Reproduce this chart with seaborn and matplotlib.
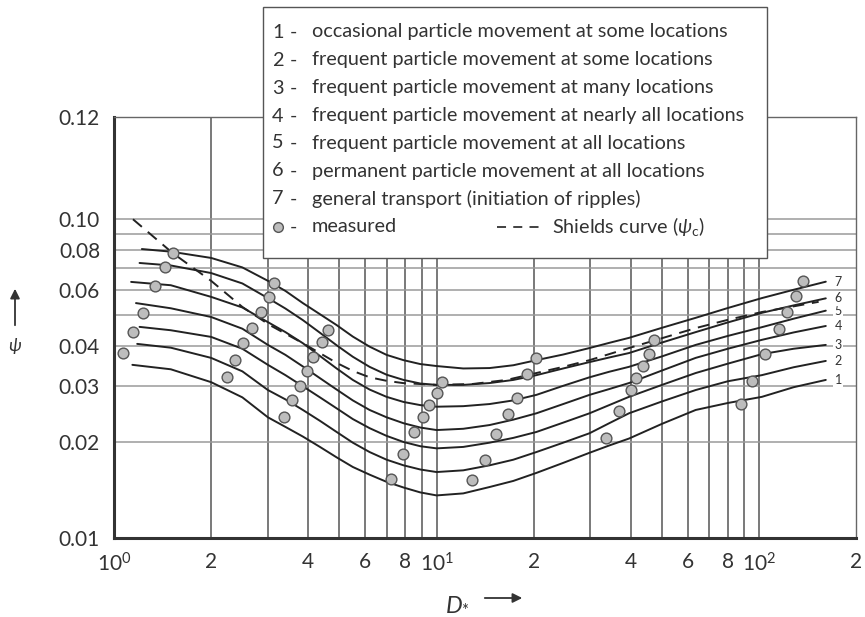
import numpy as np
import pandas as pd
import matplotlib
matplotlib.use("Agg")
import matplotlib.pyplot as plt
import seaborn as sns
from matplotlib.lines import Line2D
from matplotlib.patches import Rectangle, FancyArrowPatch
from matplotlib.ticker import FixedLocator, NullFormatter

# ------------------------
# DATA
# ------------------------

# D* positions where the curves were read (first point differs per curve)
curve_start_x = [1.14, 1.18, 1.2, 1.17, 1.13, 1.2, 1.22]
curve_x = [1.5, 2, 2.5, 3, 3.4, 3.85, 4.35, 4.9, 5.5, 6.2, 7, 7.9, 8.9, 10,
           12.1, 14.6, 17.3, 20.4, 24.7, 29.8, 34.3, 39.5, 50, 63.6, 80, 102, 128, 161]

curve1_y = [0.0349, 0.0338, 0.0308, 0.0276, 0.0239, 0.0223, 0.0208, 0.0193, 0.0179, 0.0167,
            0.0158, 0.015, 0.0144, 0.0139, 0.0136, 0.0138, 0.01445, 0.0151, 0.016, 0.0172,
            0.0185, 0.0195, 0.0205, 0.0228, 0.0252, 0.0265, 0.0277, 0.0297, 0.0313]
curve2_y = [0.0406, 0.0395, 0.0367, 0.0333, 0.0291, 0.0272, 0.0252, 0.0233, 0.0215, 0.0199,
            0.0186, 0.0176, 0.0169, 0.0164, 0.0161, 0.0163, 0.0169, 0.0176, 0.0186, 0.0199,
            0.0213, 0.0229, 0.0246, 0.0268, 0.0291, 0.031, 0.0324, 0.0343, 0.0359]
curve3_y = [0.0459, 0.0448, 0.0427, 0.0392, 0.0349, 0.0324, 0.0299, 0.0276, 0.0255, 0.0236,
            0.0221, 0.0209, 0.0200, 0.0194, 0.0191, 0.0193, 0.0199, 0.0206, 0.0215, 0.023,
            0.0246, 0.0261, 0.0277, 0.0302, 0.0329, 0.0352, 0.0377, 0.0392, 0.0403]
curve4_y = [0.0545, 0.0525, 0.0493, 0.0453, 0.0403, 0.0375, 0.0345, 0.0317, 0.0292, 0.027,
            0.0252, 0.0239, 0.0229, 0.0222, 0.0218, 0.022, 0.0226, 0.0235, 0.0246, 0.0263,
            0.0281, 0.0293, 0.0306, 0.0335, 0.0367, 0.0392, 0.0418, 0.0441, 0.0462]
curve5_y = [0.0635, 0.062, 0.057, 0.0528, 0.0475, 0.0442, 0.0408, 0.0372, 0.034, 0.0313,
            0.0292, 0.0277, 0.0267, 0.0261, 0.0258, 0.0259, 0.0263, 0.027, 0.0281, 0.03,
            0.0319, 0.0332, 0.0344, 0.0371, 0.0403, 0.043, 0.0458, 0.0487, 0.0516]
curve6_y = [0.0728, 0.0715, 0.0677, 0.0628, 0.0565, 0.0524, 0.0482, 0.044, 0.0402, 0.037,
            0.0344, 0.0325, 0.0313, 0.0305, 0.0302, 0.0302, 0.0306, 0.0313, 0.0324, 0.034,
            0.0356, 0.0368, 0.038, 0.041, 0.0442, 0.0474, 0.0508, 0.0536, 0.0564]
curve7_y = [0.0805, 0.079, 0.0755, 0.0705, 0.064, 0.0595, 0.0545, 0.0503, 0.0465, 0.0428,
            0.0398, 0.0375, 0.0361, 0.0351, 0.0346, 0.034, 0.0341, 0.0348, 0.0361, 0.0376,
            0.0394, 0.0409, 0.0424, 0.0456, 0.049, 0.0526, 0.0565, 0.06, 0.0636]

shields_x = [1.145, 1.52, 2.0, 2.5, 3.04, 3.85, 4.9, 5.5, 6.2, 7, 7.86, 10, 12.95, 16.5,
             20.4, 24.7, 29.8, 39.5, 50, 63.6, 80, 102, 125, 153]
shields_y = [0.0998, 0.0782, 0.064, 0.053, 0.0465, 0.0408, 0.0354, 0.0334, 0.0319, 0.0311,
             0.0306, 0.0302, 0.0304, 0.0313, 0.0329, 0.0344, 0.0361, 0.0394, 0.0423, 0.0455,
             0.0483, 0.0511, 0.053, 0.055]

measured_x = [1.52, 1.44, 1.34, 1.23, 1.145, 1.066,
              3.13, 3.02, 2.85, 2.675, 2.51, 2.37, 2.24,
              4.6, 4.4, 4.13, 3.96, 3.77, 3.56, 3.36,
              10.4, 10.0, 9.45, 9.05, 8.49, 7.85, 7.21,
              20.4, 19.1, 17.7, 16.6, 15.3, 14.1, 12.9,
              47.3, 45.6, 43.7, 41.6, 40.2, 36.9, 33.6,
              136.8, 130.2, 122.1, 115.3, 104.4, 95.1, 88.0]
measured_y = [0.0782, 0.0707, 0.0617, 0.0507, 0.0442, 0.038,
              0.063, 0.0569, 0.0511, 0.0455, 0.0409, 0.0361, 0.032,
              0.0449, 0.0412, 0.0369, 0.0334, 0.030, 0.0271, 0.0239,
              0.0308, 0.0285, 0.0261, 0.0239, 0.0215, 0.0183, 0.0153,
              0.0367, 0.0327, 0.0275, 0.0245, 0.0212, 0.0176, 0.0152,
              0.0418, 0.0377, 0.0346, 0.0317, 0.0291, 0.025, 0.0206,
              0.0639, 0.0574, 0.0511, 0.0452, 0.0377, 0.0311, 0.0263]

legend_items = [
    "occasional particle movement at some locations",
    "frequent particle movement at some locations",
    "frequent particle movement at many locations",
    "frequent particle movement at nearly all locations",
    "frequent particle movement at all locations",
    "permanent particle movement at all locations",
    "general transport (initiation of ripples)",
]

x_ticks = [1, 2, 4, 6, 8, 10, 20, 40, 60, 80, 100, 200]
x_labels = [r"$\mathregular{10^0}$", "2", "4", "6", "8", r"$\mathregular{10^1}$",
            "2", "4", "6", "8", r"$\mathregular{10^2}$", "2"]
x_grid = [2, 3, 4, 5, 6, 7, 8, 9, 10, 20, 30, 40, 50, 60, 70, 80, 90, 100]

# the printed top of the frame sits higher than 0.12 on a true log scale
y_top = 0.2088
y_ticks = [0.01, 0.02, 0.03, 0.04, 0.06, 0.08, 0.10, y_top]
y_labels = ["0.01", "0.02", "0.03", "0.04", "0.06", "0.08", "0.10", "0.12"]
y_grid = [0.02, 0.03, 0.04, 0.05, 0.06, 0.07, 0.08, 0.09, 0.10]

# ------------------------
# STYLE
# ------------------------

sns.set_style("white")
plt.rcParams["font.family"] = ["Lato", "DejaVu Sans"]
plt.rcParams["mathtext.fontset"] = "custom"
plt.rcParams["mathtext.rm"] = "Lato"
plt.rcParams["mathtext.it"] = "Lato:italic"

TXT = "#333333"
LINE = "#222222"
FS = 14.3

# ------------------------
# PLOT
# ------------------------

fig = plt.figure(figsize=(8.65, 6.17), dpi=100)
ax = fig.add_axes([0.1318, 0.128, 0.858, 0.6824])

curves = [curve1_y, curve2_y, curve3_y, curve4_y, curve5_y, curve6_y, curve7_y]
for i, cy in enumerate(curves):
    cx = [curve_start_x[i]] + curve_x
    sns.lineplot(x=cx, y=cy, ax=ax, color=LINE, linewidth=1.4,
                 sort=False, estimator=None, zorder=3)
    ax.text(176, cy[-1], str(i + 1), ha="center", va="center", fontsize=9,
            color=TXT, zorder=4,
            bbox=dict(facecolor="white", edgecolor="none", pad=1.0))

sns.lineplot(x=shields_x, y=shields_y, ax=ax, color=LINE, linewidth=1.4,
             sort=False, estimator=None, zorder=3, linestyle=(0, (6, 4)))

sns.scatterplot(x=measured_x, y=measured_y, ax=ax, s=60, color="#bdbdbd",
                edgecolor="#555555", linewidth=1.0, zorder=5)

ax.set_xscale("log")
ax.set_yscale("log")
ax.set_xlim(1, 200)
ax.set_ylim(0.01, y_top)

ax.xaxis.remove_overlapping_locs = False
ax.yaxis.remove_overlapping_locs = False
ax.xaxis.set_major_locator(FixedLocator(x_ticks))
ax.set_xticklabels(x_labels)
ax.xaxis.set_minor_locator(FixedLocator(x_grid))
ax.xaxis.set_minor_formatter(NullFormatter())
ax.yaxis.set_major_locator(FixedLocator(y_ticks))
ax.set_yticklabels(y_labels)
ax.yaxis.set_minor_locator(FixedLocator(y_grid))
ax.yaxis.set_minor_formatter(NullFormatter())

ax.tick_params(which="both", length=0)
ax.tick_params(axis="x", pad=10, labelsize=15, colors=TXT)
ax.tick_params(axis="y", pad=10, labelsize=15, colors=TXT)

ax.grid(False)
ax.grid(which="minor", axis="x", color="#555555", linewidth=1.1, zorder=1)
ax.grid(which="minor", axis="y", color="#9a9a9a", linewidth=1.1, zorder=1)

for side in ["left", "bottom"]:
    ax.spines[side].set_linewidth(2.2)
    ax.spines[side].set_color("#333333")
for side in ["top", "right"]:
    ax.spines[side].set_linewidth(1.0)
    ax.spines[side].set_color("#666666")

# axis labels with arrows
fig.text(457 / 865, 1 - 603 / 617, r"$D_{*}$", fontsize=17, color=TXT,
         ha="center", va="center")
fig.add_artist(FancyArrowPatch((482 / 865, 1 - 598 / 617), (525 / 865, 1 - 598 / 617),
                               transform=fig.transFigure, arrowstyle="-|>",
                               mutation_scale=14, color=TXT, linewidth=1.3))
fig.text(15 / 865, 1 - 346 / 617, "ψ", fontsize=13, color=TXT,
         ha="center", va="center", style="italic")
fig.add_artist(FancyArrowPatch((15 / 865, 1 - 328 / 617), (15 / 865, 1 - 286 / 617),
                               transform=fig.transFigure, arrowstyle="-|>",
                               mutation_scale=14, color=TXT, linewidth=1.3))

# legend box
fig.add_artist(Rectangle((263 / 865, 1 - 258 / 617), 504 / 865, 251 / 617,
                         transform=fig.transFigure, facecolor="white",
                         edgecolor="#555555", linewidth=1.0, zorder=10))
row_y = [32, 60, 88, 116, 143, 171, 199]
for i, label in enumerate(legend_items):
    yy = 1 - row_y[i] / 617
    fig.text(272 / 865, yy, f"{i + 1}", fontsize=FS, color=TXT,
             ha="left", va="center", zorder=11)
    fig.text(290 / 865, yy, "-", fontsize=FS, color=TXT,
             ha="left", va="center", zorder=11)
    fig.text(312 / 865, yy, label, fontsize=FS, color=TXT,
             ha="left", va="center", zorder=11)
yy = 1 - 227 / 617
fig.add_artist(Line2D([278 / 865], [yy], transform=fig.transFigure, marker="o",
                      markersize=7, markerfacecolor="#bdbdbd",
                      markeredgecolor="#555555", linestyle="none", zorder=11))
fig.text(290 / 865, yy, "-", fontsize=FS, color=TXT, ha="left", va="center", zorder=11)
fig.text(312 / 865, yy, "measured", fontsize=FS, color=TXT,
         ha="left", va="center", zorder=11)
fig.add_artist(Line2D([497 / 865, 541 / 865], [yy, yy], transform=fig.transFigure,
                      color=TXT, linewidth=1.3, linestyle=(0, (5, 4)), zorder=11))
fig.text(552 / 865, yy, r"Shields curve ($\psi_{\mathrm{c}}$)", fontsize=FS,
         color=TXT, ha="left", va="center", zorder=11)

fig.savefig("out.png", dpi=100)
